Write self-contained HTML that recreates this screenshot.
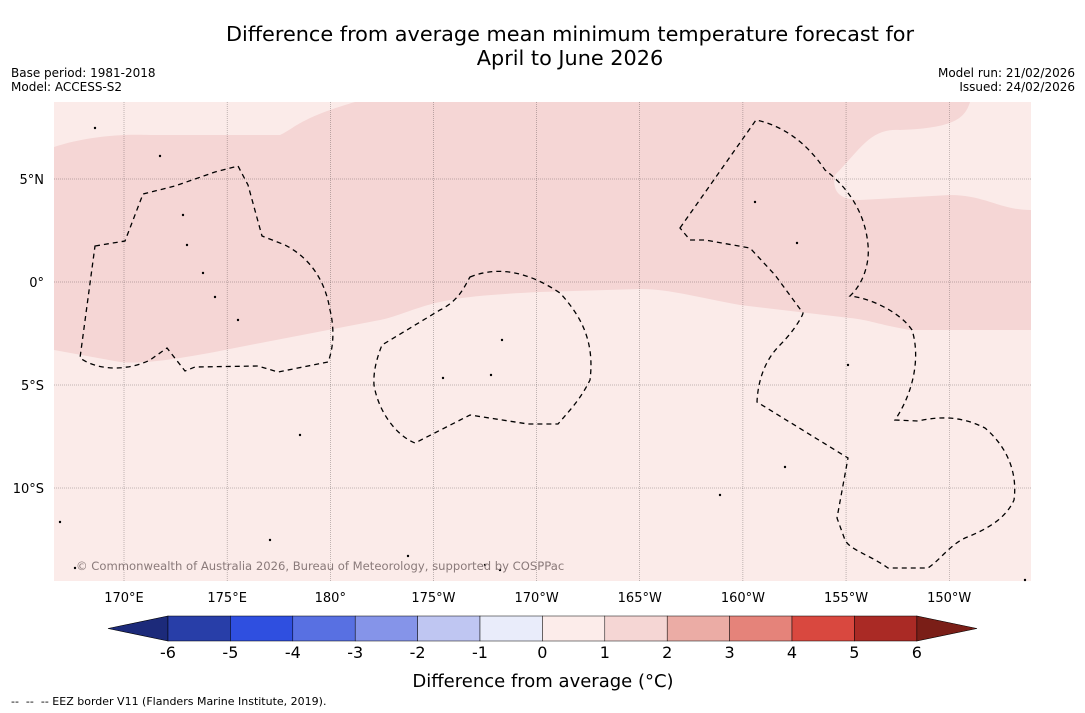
<!DOCTYPE html>
<html><head><meta charset="utf-8"><style>
body{margin:0;width:1085px;height:713px;background:#fff;font-family:"DejaVu Sans","Liberation Sans",sans-serif;overflow:hidden;position:relative}
.t{position:absolute;white-space:nowrap}
</style></head><body>
<div class="t" style="left:0;width:1140px;top:22px;text-align:center;font-size:20.8px;line-height:24px;color:#000;font-family:'DejaVu Sans',sans-serif">Difference from average mean minimum temperature forecast for<br>April to June 2026</div>
<div class="t" style="left:11px;top:66px;font-size:12px;line-height:14px;font-family:'DejaVu Sans',sans-serif">Base period: 1981-2018<br>Model: ACCESS-S2</div>
<div class="t" style="right:10px;top:66px;font-size:12px;line-height:14px;text-align:right;font-family:'DejaVu Sans',sans-serif">Model run: 21/02/2026<br>Issued: 24/02/2026</div>
<svg id="svg" width="1085" height="713" style="position:absolute;left:0;top:0"></svg>
<div class="t" style="left:11px;top:695px;font-size:11px;font-family:'DejaVu Sans',sans-serif">-- &nbsp;-- &nbsp;-- EEZ border V11 (Flanders Marine Institute, 2019).</div>
<script>
const lonTicks=[170,175,180,-175,-170,-165,-160,-155,-150];
const lonLabels=["170°E","175°E","180°","175°W","170°W","165°W","160°W","155°W","150°W"];
const latTicks=[5,0,-5,-10];
const latLabels=["5°N","0°","5°S","10°S"];
const levels=[-6,-5,-4,-3,-2,-1,0,1,2,3,4,5,6];
const binColors=["#283ea8","#2f4fe0","#5870e2","#8594e9","#bfc6f2","#e9ecfa","#fcecea","#f5d6d4","#ebaca5","#e5837a","#d9483f","#aa2a25"];
const S="http://www.w3.org/2000/svg",svg=document.getElementById('svg');
function mk(t,a,p){const e=document.createElementNS(S,t);for(const k in a)e.setAttribute(k,a[k]);(p||svg).appendChild(e);return e;}
const X0=54,X1=1031,Y0=102,Y1=581;
function xl(lon){const l=lon<0?lon+360:lon;return 124+(l-170)*20.63;}
function yl(lat){return 282-lat*20.6;}
const bg=mk('rect',{x:X0,y:Y0,width:X1-X0,height:Y1-Y0,fill:"#fbebe9"});

const band=mk('path',{fill:"#f5d6d5",d:"M54,147 C90,135 130,134 150,135 L280,135 C295,128 300,118 355,102 L970,102 C965,118 955,128 900,130 C870,128 860,150 835,175 C832,190 838,200 860,200 L950,195 C985,195 1000,210 1031,210 L1031,330 L910,330 C880,325 870,320 850,318 L740,305 C700,298 670,289 640,289 L540,292 C500,294 470,296 450,300 C420,305 400,316 380,320 L250,345 C200,355 150,365 120,362 L54,350 Z"});

lonTicks.forEach((v,i)=>{const x=xl(v);
const g=mk('line',{x1:x,x2:x,y1:Y0,y2:Y1,stroke:"#000","stroke-width":0.4,"stroke-dasharray":"1 1",opacity:0.6});

const t=mk('text',{x:x,y:602,"text-anchor":"middle","font-size":13,"font-family":"DejaVu Sans,sans-serif"});t.textContent=lonLabels[i];
});
latTicks.forEach((v,i)=>{const y=yl(v);
const g=mk('line',{x1:X0,x2:X1,y1:y,y2:y,stroke:"#000","stroke-width":0.4,"stroke-dasharray":"1 1",opacity:0.6});

const t=mk('text',{x:44,y:y+5,"text-anchor":"end","font-size":13,"font-family":"DejaVu Sans,sans-serif"});t.textContent=latLabels[i];
});
const eez=["M95,246 L125,241 L143,194 L175,186 L215,172 L238,166 L248,185 L262,236 L285,245 C310,258 325,280 330,310 C335,330 333,350 328,362 L278,372 L258,366 L195,367 L185,371 L167,348 L150,360 C130,370 100,372 80,358 Z",
"M470,277 C500,265 530,273 560,293 C580,315 595,340 590,380 C580,400 570,410 558,424 L528,424 L470,415 L415,443 C395,435 378,410 374,385 C373,370 378,355 382,345 L440,310 C460,300 465,285 470,277 Z",
"M680,228 L756,120 C780,125 805,140 825,170 C845,185 865,210 868,245 C870,265 862,285 850,296 C870,298 900,312 912,330 C920,355 915,390 895,420 L918,421 C945,415 965,418 985,428 C1005,445 1018,470 1014,500 C1005,520 985,530 965,538 C950,545 940,560 928,568 L888,568 C870,555 850,550 845,540 L837,518 L848,458 L757,402 C758,380 765,360 780,345 C795,330 803,315 803,313 L775,275 L750,248 L705,240 L690,240 Z"];
eez.forEach(d=>{const p=mk('path',{d:d,fill:"none",stroke:"#000","stroke-width":1.3,"stroke-dasharray":"5 4"});
});
const isl=[[95,128],[160,156],[183,215],[187,245],[203,273],[215,297],[238,320],[300,435],[443,378],[491,375],[502,340],[785,467],[720,495],[848,365],[797,243],[755,202],[60,522],[485,565],[500,570],[75,568],[1025,580],[408,556],[270,540]];
isl.forEach(c=>{const e=mk('circle',{cx:c[0],cy:c[1],r:1.2,fill:"#000"});});
const cp=mk('text',{x:76,y:570,"font-size":11.6,fill:"#8a7a7a","font-family":"DejaVu Sans,sans-serif"});cp.textContent="© Commonwealth of Australia 2026, Bureau of Meteorology, supported by COSPPac";

const CB0=168,CBW=62.4,CY=616,CH=25;
function cx(v){return CB0+(v-levels[0])*CBW;}
const tl=mk('polygon',{points:`108,${CY+CH/2} ${CB0},${CY} ${CB0},${CY+CH}`,fill:"#1c2a7a",stroke:"#000","stroke-width":0.6});

const tr=mk('polygon',{points:`977,${CY+CH/2} ${cx(6)},${CY} ${cx(6)},${CY+CH}`,fill:"#7a1e17",stroke:"#000","stroke-width":0.6});

binColors.forEach((c,i)=>{const r=mk('rect',{x:cx(levels[i]),y:CY,width:cx(levels[i+1])-cx(levels[i]),height:CH,fill:c,stroke:"#000","stroke-width":0.5});
});
levels.forEach(v=>{const t=mk('text',{x:cx(v),y:658,"text-anchor":"middle","font-size":16,"font-family":"DejaVu Sans,sans-serif"});t.textContent=String(v);
});
const ct=mk('text',{x:543,y:687,"text-anchor":"middle","font-size":18,"font-family":"DejaVu Sans,sans-serif"});ct.textContent="Difference from average (°C)";

</script>
</body></html>
